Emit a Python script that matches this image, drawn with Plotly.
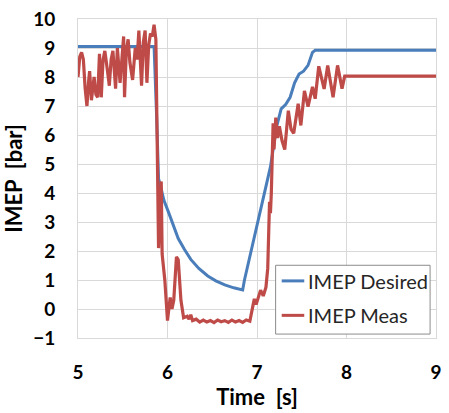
import plotly.graph_objects as go

# IMEP Desired
t_des = [5.0, 5.85, 5.88, 5.9, 5.93, 5.96, 6.01, 6.06, 6.12, 6.19, 6.26, 6.35, 6.45, 6.54,
         6.64, 6.74, 6.84, 6.86, 6.89, 6.97, 7.08, 7.15, 7.2, 7.22,
         7.27, 7.32, 7.37, 7.42, 7.47, 7.52, 7.57, 7.62, 7.65, 9.0]
imep_des = [9.05, 9.05, 6.5, 4.5, 4.13, 3.75, 3.35, 2.9, 2.43, 2.05, 1.71, 1.4, 1.14, 0.97,
            0.83, 0.73, 0.66, 1.0, 1.41, 2.43, 3.9, 4.9, 5.9, 6.3,
            6.9, 7.05, 7.3, 7.8, 8.1, 8.2, 8.4, 8.85, 8.92, 8.92]

# IMEP Meas
t_meas = [5.00, 5.02, 5.04, 5.06, 5.08, 5.10, 5.12, 5.13, 5.15, 5.17, 5.18, 5.20, 5.22, 5.24,
          5.26, 5.28, 5.30, 5.33, 5.35, 5.37, 5.39, 5.42, 5.44, 5.47, 5.49, 5.51, 5.52, 5.54,
          5.56, 5.58, 5.61, 5.64, 5.66, 5.68, 5.71, 5.73, 5.75, 5.77, 5.79, 5.81, 5.83, 5.85,
          5.87, 5.89, 5.90, 5.93, 5.94, 5.97, 6.00, 6.03, 6.05, 6.07, 6.10, 6.12, 6.15, 6.18,
          6.22, 6.24, 6.26, 6.28, 6.32, 6.36, 6.40, 6.44, 6.48, 6.52, 6.56, 6.60, 6.64, 6.68,
          6.72, 6.76, 6.80, 6.84, 6.88, 6.92, 6.95, 6.97, 6.99, 7.02, 7.04, 7.07, 7.10, 7.12,
          7.14, 7.15, 7.16, 7.18, 7.19, 7.21, 7.23, 7.25, 7.28, 7.31, 7.35, 7.38, 7.41, 7.46,
          7.49, 7.53, 7.57, 7.62, 7.65, 7.69, 7.75, 7.79, 7.85, 7.90, 7.95, 7.98, 9.00]
imep_meas = [8.0, 8.7, 8.85, 8.6, 7.6, 7.0, 7.9, 8.2, 7.2, 7.7, 8.0, 7.4, 7.3, 8.8,
             7.3, 8.6, 8.9, 8.2, 7.7, 8.6, 8.9, 7.6, 9.0, 7.8, 8.6, 9.4, 7.3, 8.9,
             9.3, 8.5, 7.9, 9.0, 8.6, 9.6, 7.7, 9.2, 9.6, 7.8, 9.1, 9.5, 9.4, 9.8,
             9.3, 4.5, 2.1, 4.4, 1.9, 1.0, -0.4, 0.4, 0.0, 0.3, 1.8, 1.7, 0.3, -0.3,
             -0.25, -0.35, -0.2, -0.4, -0.35, -0.45, -0.38, -0.45, -0.4, -0.47, -0.38, -0.44, -0.4, -0.46,
             -0.38, -0.45, -0.4, -0.46, -0.38, -0.42, 0.0, 0.35, 0.15, 0.5, 0.65, 0.45, 0.75, 1.4,
             3.7, 3.3, 4.0, 6.4, 5.5, 6.6, 5.9, 6.3, 5.8, 5.5, 6.84, 6.2, 6.06, 7.08,
             6.33, 7.52, 6.98, 7.66, 7.25, 8.37, 7.59, 8.4, 7.3, 8.4, 7.6, 8.03, 8.03]

series_names = ["IMEP Desired", "IMEP Meas"]
series_colors = ["#4A7EBB", "#BE4B48"]

font_family = "Lato, 'Open Sans', sans-serif"

fig = go.Figure()
fig.add_trace(go.Scatter(x=t_des, y=imep_des, mode="lines", name=series_names[0],
                         line=dict(color=series_colors[0], width=3)))
fig.add_trace(go.Scatter(x=t_meas, y=imep_meas, mode="lines", name=series_names[1],
                         line=dict(color=series_colors[1], width=3.2)))

# Legend drawn in paper coordinates (Excel-style compact legend)
shapes = [dict(type="rect", xref="paper", yref="paper", x0=0.552, x1=0.9835, y0=0.0123, y1=0.228,
               line=dict(color="#8c8c8c", width=1), fillcolor="white", layer="above")]
annotations = []
leg_rows = [0.179, 0.071]
for name, color, yy in zip(series_names, series_colors, leg_rows):
    shapes.append(dict(type="line", xref="paper", yref="paper", x0=0.569, x1=0.632, y0=yy, y1=yy,
                       line=dict(color=color, width=3), layer="above"))
    annotations.append(dict(xref="paper", yref="paper", x=0.636, y=yy, text=name, showarrow=False,
                            xanchor="left", yanchor="middle",
                            font=dict(size=20, family=font_family, color="#262626")))

fig.update_layout(
    width=449, height=413,
    margin=dict(l=78, r=7, t=14, b=75),
    paper_bgcolor="white", plot_bgcolor="white",
    font=dict(family=font_family, color="#000000"),
    showlegend=False,
    shapes=shapes, annotations=annotations,
    xaxis=dict(range=[5, 9], dtick=1, tick0=5, showgrid=True, gridcolor="#d9d9d9", gridwidth=1,
               zeroline=False, showline=True, linecolor="#d9d9d9", mirror=True,
               tickfont=dict(size=19, family=font_family, weight="bold"),
               ticklabelstandoff=17,
               title=dict(text="Time  [s]", font=dict(size=22, family=font_family, weight="bold"),
                          standoff=6)),
    yaxis=dict(range=[-1, 10], dtick=1, tick0=-1, showgrid=True, gridcolor="#d9d9d9", gridwidth=1,
               zeroline=False, showline=True, linecolor="#d9d9d9", mirror=True,
               tickfont=dict(size=19, family=font_family, weight="bold"),
               ticklabelstandoff=18,
               title=dict(text="IMEP  [bar]", font=dict(size=22, family=font_family, weight="bold"),
                          standoff=8)),
)

fig.write_html("out.html")
